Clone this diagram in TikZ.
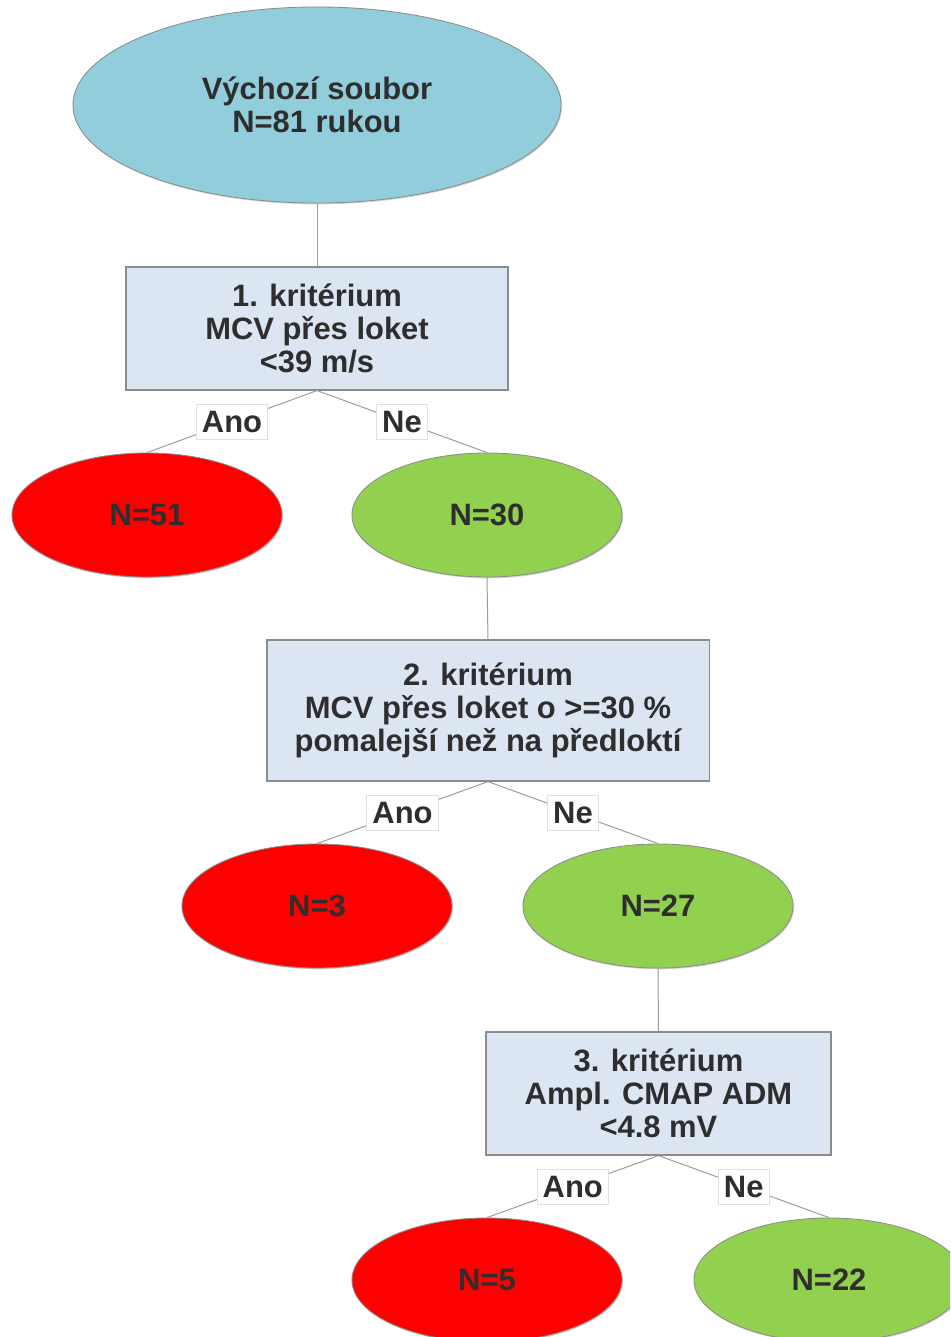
\documentclass[tikz,border=0pt]{standalone}
\usepackage{fontspec}
\setmainfont{Liberation Sans}
\usetikzlibrary{shapes.geometric,shadows}
\definecolor{ink}{HTML}{2E2E2E}
\definecolor{rim}{HTML}{8C8C8C}
\definecolor{edge}{HTML}{9C9C9C}
\definecolor{cstart}{HTML}{92CDDC}
\definecolor{ccrit}{HTML}{DCE6F2}
\definecolor{cbad}{HTML}{FF0000}
\definecolor{cgood}{HTML}{92D050}
\tikzset{
  txt/.style={font=\fontsize{22}{23.5}\selectfont\bfseries, text=ink, align=center},
  shade/.style={drop shadow={shadow xshift=0.7pt, shadow yshift=-0.9pt, opacity=0.35}},
  start/.style={txt, ellipse, draw=rim, line width=0.6pt, fill=cstart, shade,
                inner sep=0pt, minimum width=12.2cm, minimum height=4.9cm},
  crit/.style={txt, rectangle, draw=rim, line width=0.8pt, fill=ccrit, shade, inner sep=0pt},
  leaf/.style={txt, ellipse, draw=rim, line width=0.6pt, shade, inner sep=0pt,
               minimum width=6.75cm, minimum height=3.1cm},
  bad/.style={leaf, fill=cbad},
  good/.style={leaf, fill=cgood},
  lbl/.style={txt, draw=black!12, line width=0.5pt, fill=white, inner xsep=4pt,
              inner ysep=0pt, minimum height=0.875cm},
  link/.style={draw=edge, line width=0.7pt},
}

\begin{document}
\begin{tikzpicture}[x=0.025cm, y=-0.025cm]
\path[use as bounding box, fill=white] (0,0) rectangle (950,1337);
\clip (0,0) rectangle (950,1337);
  % start set
  \node[start] (s0) at (317,105) {Výchozí soubor\\N=81 rukou};
  % ---- criterion 1 ----
  \node[crit, minimum width=9.55cm, minimum height=3.075cm] (c1) at (317,328.5)
        {1. kritérium\\MCV přes loket\\<39 m/s};
  \node[bad]  (n51) at (147,515) {N=51};
  \node[good] (n30) at (487,515) {N=30};
  % ---- criterion 2 ----
  \node[crit, minimum width=11.05cm, minimum height=3.525cm] (c2) at (488,710.5)
        {2. kritérium\\MCV přes loket o >=30 \%\\pomalejší než na předloktí};
  \node[bad]  (n3)  at (317,906) {N=3};
  \node[good] (n27) at (658,906) {N=27};
  % ---- criterion 3 ----
  \node[crit, minimum width=8.625cm, minimum height=3.075cm] (c3) at (658.5,1093.5)
        {3. kritérium\\Ampl. CMAP ADM\\<4.8 mV};
  \node[bad]  (n5)  at (487,1280) {N=5};
  \node[good] (n22) at (829,1280) {N=22};
  % connectors
  \draw[link] (s0.south) -- (c1.north);
  \draw[link] (c1.south) -- (n51.north) node[lbl, pos=0.5] (a1) {Ano};
  \draw[link] (c1.south) -- (n30.north) node[lbl, pos=0.5] (b1) {Ne};
  \draw[link] (n30.south) -- (c2.north);
  \draw[link] (c2.south) -- (n3.north)  node[lbl, pos=0.5] (a2) {Ano};
  \draw[link] (c2.south) -- (n27.north) node[lbl, pos=0.5] (b2) {Ne};
  \draw[link] (n27.south) -- (c3.north);
  \draw[link] (c3.south) -- (n5.north)  node[lbl, pos=0.5] (a3) {Ano};
  \draw[link] (c3.south) -- (n22.north) node[lbl, pos=0.5] (b3) {Ne};
\end{tikzpicture}
\end{document}
